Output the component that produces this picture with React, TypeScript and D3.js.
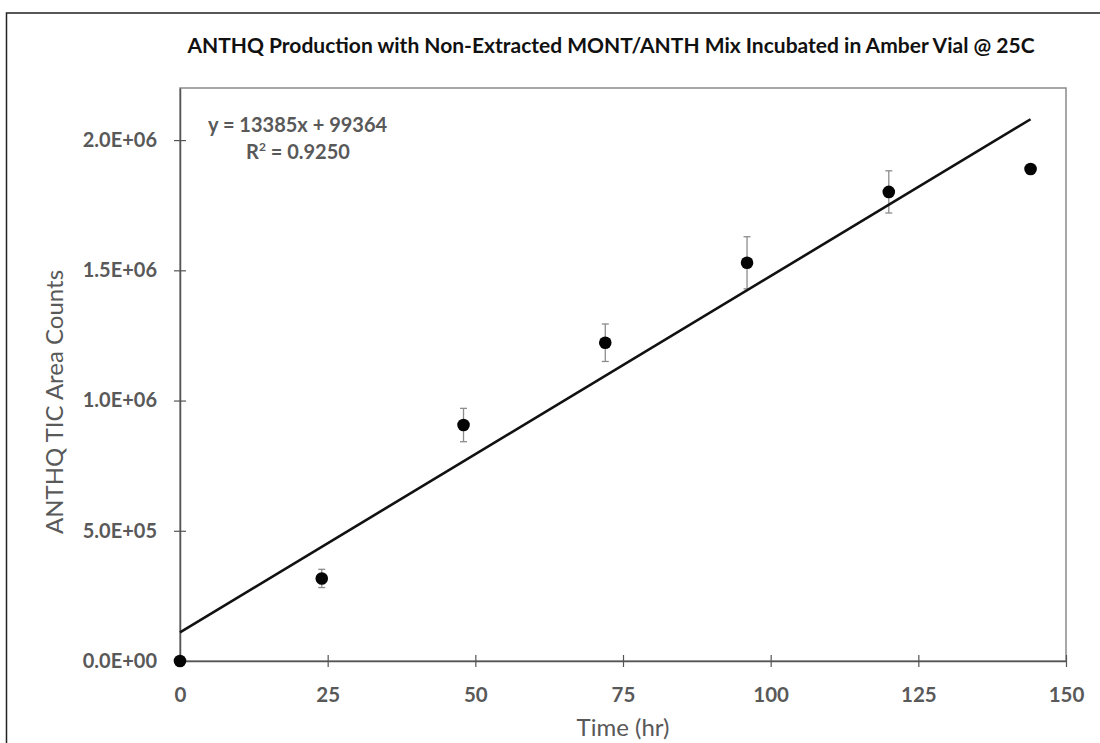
import React, { useEffect, useRef } from 'react';
import * as d3 from 'd3';

const times = [0, 24, 48, 72, 96, 120, 144];
const counts = [0, 3.17e5, 9.06e5, 1.222e6, 1.529e6, 1.801e6, 1.889e6];
const errors = [0, 3.5e4, 6.4e4, 7.2e4, 1.0e5, 8.1e4, 1.0e4];

// trend line as drawn (end points)
const trendX = [0, 144];
const trendY = [1.1e5, 2.08e6];

const xTicks = [0, 25, 50, 75, 100, 125, 150];
const yTicks = [0, 5e5, 1e6, 1.5e6, 2e6];

const TITLE = 'ANTHQ Production with Non-Extracted MONT/ANTH Mix Incubated in Amber Vial @ 25C';
const EQ = 'y = 13385x + 99364';

const W = 1100;
const H = 743;
const FONT = 'Lato, "Open Sans", sans-serif';

const fmtSci = (v: number) => {
  if (v === 0) return '0.0E+00';
  const e = Math.floor(Math.log10(Math.abs(v)));
  const m = v / Math.pow(10, e);
  const sign = e < 0 ? '-' : '+';
  return `${m.toFixed(1)}E${sign}${String(Math.abs(e)).padStart(2, '0')}`;
};

const Chart = () => {
  const svgRef = useRef<SVGSVGElement | null>(null);

  useEffect(() => {
    document.body.style.margin = '0';
    const margin = { top: 88, right: 34, bottom: 82, left: 180 };
    const innerW = W - margin.left - margin.right;
    const innerH = H - margin.top - margin.bottom;

    const svg = d3.select(svgRef.current).attr('width', W).attr('height', H);
    svg.selectAll('*').remove();

    svg.append('rect')
      .attr('width', W).attr('height', H).attr('fill', '#fff');

    // chart area border (runs off the right / bottom edges)
    svg.append('rect')
      .attr('x', 6.5).attr('y', 13)
      .attr('width', W + 20).attr('height', H + 20)
      .attr('fill', 'none').attr('stroke', '#222').attr('stroke-width', 1.5);

    svg.append('text')
      .attr('x', 611).attr('y', 53)
      .attr('text-anchor', 'middle')
      .attr('font-family', FONT).attr('font-weight', 700).attr('font-size', 21)
      .attr('fill', '#111')
      .text(TITLE);

    const g = svg.append('g').attr('transform', `translate(${margin.left},${margin.top})`);

    const x = d3.scaleLinear().domain([0, 150]).range([0, innerW]);
    const y = d3.scaleLinear().domain([0, 2.2e6]).range([innerH, 0]);

    // plot area border
    g.append('rect')
      .attr('width', innerW).attr('height', innerH)
      .attr('fill', 'none').attr('stroke', '#8a8a8a').attr('stroke-width', 1.5);

    // y axis (cross ticks)
    const yAxis = g.append('g')
      .call(d3.axisLeft(y).tickValues(yTicks).tickSize(6).tickSizeOuter(0).tickPadding(17).tickFormat(d => fmtSci(+d)));
    yAxis.select('.domain').attr('stroke', '#555').attr('stroke-width', 1.5);
    yAxis.selectAll('.tick line').attr('x2', 6).attr('x1', -6).attr('stroke', '#555').attr('stroke-width', 1.2);
    yAxis.selectAll('.tick text')
      .attr('font-family', FONT).attr('font-weight', 700).attr('font-size', 20).attr('fill', '#595959');

    // x axis (cross ticks)
    const xAxis = g.append('g')
      .attr('transform', `translate(0,${innerH})`)
      .call(d3.axisBottom(x).tickValues(xTicks).tickSize(6).tickSizeOuter(0));
    xAxis.select('.domain').attr('stroke', '#555').attr('stroke-width', 1.5);
    xAxis.selectAll('.tick line').attr('y1', -6).attr('y2', 6).attr('stroke', '#555').attr('stroke-width', 1.2);
    xAxis.selectAll('.tick text')
      .attr('y', 41).attr('dy', null)
      .attr('font-family', FONT).attr('font-weight', 700).attr('font-size', 20.5).attr('fill', '#595959');

    // axis titles
    svg.append('text')
      .attr('transform', `translate(63,402) rotate(-90)`)
      .attr('text-anchor', 'middle')
      .attr('font-family', FONT).attr('font-size', 24).attr('fill', '#595959')
      .text('ANTHQ TIC Area Counts');

    svg.append('text')
      .attr('x', margin.left + innerW / 2).attr('y', 736)
      .attr('text-anchor', 'middle')
      .attr('font-family', FONT).attr('font-size', 24).attr('fill', '#595959')
      .text('Time (hr)');

    // error bars
    const data = times.map((t, i) => ({ t, v: counts[i], e: errors[i] }));
    const eb = g.append('g').attr('stroke', '#8c8c8c').attr('stroke-width', 1.3);
    data.filter(d => d.e > 0).forEach(d => {
      eb.append('line')
        .attr('x1', x(d.t)).attr('x2', x(d.t))
        .attr('y1', y(d.v - d.e)).attr('y2', y(d.v + d.e));
      [d.v - d.e, d.v + d.e].forEach(c => {
        eb.append('line')
          .attr('x1', x(d.t) - 3.5).attr('x2', x(d.t) + 3.5)
          .attr('y1', y(c)).attr('y2', y(c));
      });
    });

    // trend line
    const line = d3.line<number>()
      .x((_, i) => x(trendX[i]))
      .y(d => y(d));
    g.append('path')
      .datum(trendY)
      .attr('fill', 'none').attr('stroke', '#111').attr('stroke-width', 2.6)
      .attr('d', line);

    // markers
    g.selectAll('.dot')
      .data(data)
      .enter()
      .append('circle')
      .attr('cx', d => x(d.t))
      .attr('cy', d => y(d.v))
      .attr('r', 6.3)
      .attr('fill', '#050505');

    // regression label
    const eq = svg.append('text')
      .attr('font-family', FONT).attr('font-weight', 700).attr('font-size', 20).attr('fill', '#595959');
    eq.append('tspan').attr('x', 208).attr('y', 132).text(EQ);
    const r2 = svg.append('text')
      .attr('x', 246).attr('y', 159)
      .attr('font-family', FONT).attr('font-weight', 700).attr('font-size', 20).attr('fill', '#595959');
    r2.append('tspan').text('R');
    r2.append('tspan').attr('font-size', 12).attr('dy', -8).text('2');
    r2.append('tspan').attr('dy', 8).text(' = 0.9250');
  }, []);

  return <svg ref={svgRef} style={{ display: 'block' }} />;
};

export default function App() {
  return <Chart />;
}
